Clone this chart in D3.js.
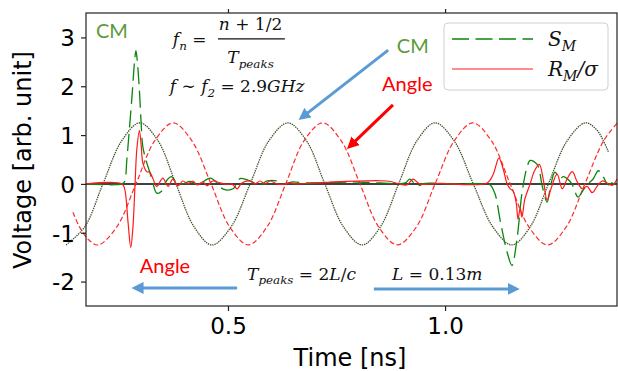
<!DOCTYPE html>
<html>
<head>
<meta charset="utf-8">
<script src="https://cdn.jsdelivr.net/npm/d3@7"></script>
<style>
  body { margin: 0; background: #fff; }
  svg { display: block; }
  text { font-family: "DejaVu Sans", sans-serif; }
</style>
</head>
<body>
<svg id="chart" width="618" height="371"></svg>
<script>
// values (time in ns, voltage in arb. units)
var cmTime  = [0.127, 0.170, 0.212, 0.255, 0.297, 0.339, 0.380, 0.422, 0.463, 0.507, 0.551, 0.594, 0.638,
               0.681, 0.723, 0.766, 0.809, 0.851, 0.893, 0.935, 0.977, 1.021, 1.065, 1.110, 1.154, 1.196,
               1.238, 1.281, 1.323, 1.350, 1.376];
var cmVolt  = [-1.25, -0.88, 0, 0.88, 1.25, 0.88, 0, -0.88, -1.25, -0.88, 0, 0.88, 1.25,
               0.88, 0, -0.88, -1.25, -0.88, 0, 0.88, 1.25, 0.88, 0, -0.88, -1.25, -0.88,
               0, 0.88, 1.25, 1.1, 0.66];

var angleTime = [0.143, 0.158, 0.180, 0.201, 0.244, 0.288, 0.331, 0.374, 0.417, 0.461, 0.504, 0.547, 0.590,
                 0.633, 0.675, 0.718, 0.761, 0.804, 0.847, 0.890, 0.934, 0.977, 1.021, 1.064, 1.107, 1.150,
                 1.193, 1.236, 1.279, 1.322, 1.365, 1.396];
var angleVolt = [-0.58, -0.88, -1.15, -1.25, -0.88, 0, 0.88, 1.25, 0.88, 0, -0.88, -1.25, -0.88,
                 0, 0.88, 1.25, 0.88, 0, -0.88, -1.25, -0.88, 0, 0.88, 1.25, 0.88, 0,
                 -0.88, -1.25, -0.88, 0, 0.88, 1.24];

// S_M (green dashed)
var smTime = [0.173, 0.256, 0.262, 0.267, 0.274, 0.280, 0.285, 0.288, 0.291, 0.296, 0.300, 0.304, 0.313,
              0.320, 0.327, 0.336, 0.347, 0.358, 0.370, 0.382, 0.396, 0.412, 0.431, 0.459, 0.475, 0.488,
              0.512, 0.528, 0.551, 0.574, 0.590, 0.613, 0.627, 0.650, 0.673, 0.696, 0.788, 0.850, 0.908,
              0.919, 0.935, 0.954, 1.012, 1.097, 1.104, 1.115, 1.127, 1.143, 1.154, 1.166, 1.177, 1.189,
              1.196, 1.212, 1.224, 1.235, 1.242, 1.253, 1.265, 1.272, 1.288, 1.295, 1.306, 1.318, 1.329,
              1.341, 1.353, 1.364, 1.376, 1.385, 1.396];
var smVolt = [0, 0, 0.05, 0.49, 1.24, 1.92, 2.53, 2.73, 2.53, 1.92, 1.24, 0.76, 0.43,
              0.24, 0.02, -0.19, -0.15, 0.06, 0.15, 0.02, 0.0, 0.05, -0.01, 0.12, 0.02, -0.1,
              -0.1, 0.11, 0.06, -0.02, 0.06, 0.06, 0.0, 0.04, 0.02, 0.02, 0.04, 0.02, 0.02,
              0.1, -0.04, 0.01, 0.0, 0.0, -0.02, -0.2, -0.75, -1.4, -1.67, -1.1, -0.2, 0.35,
              0.48, 0.4, -0.05, -0.37, -0.1, 0.24, 0.1, 0.15, 0.05, -0.05, -0.27, -0.13, 0.0,
              0.1, 0.27, 0.15, -0.02, 0.02, -0.12];

// R_M / sigma (red solid)
var rmTime = [0.173, 0.256, 0.262, 0.270, 0.276, 0.281, 0.286, 0.290, 0.296, 0.300, 0.304, 0.313, 0.320,
              0.327, 0.336, 0.350, 0.362, 0.373, 0.385, 0.396, 0.408, 0.419, 0.429, 0.442, 0.452, 0.465,
              0.482, 0.498, 0.509, 0.521, 0.532, 0.551, 0.562, 0.574, 0.585, 0.597, 0.613, 0.627, 0.643,
              0.659, 0.705, 0.866, 0.912, 0.926, 0.942, 0.988, 1.097, 1.111, 1.124, 1.134, 1.143, 1.150,
              1.157, 1.164, 1.168, 1.173, 1.177, 1.184, 1.196, 1.205, 1.217, 1.226, 1.235, 1.244, 1.258,
              1.270, 1.281, 1.293, 1.304, 1.316, 1.327, 1.339, 1.350, 1.362, 1.373, 1.385, 1.396];
var rmVolt = [0, 0, -0.1, -0.8, -1.3, -0.9, 0.0, 0.7, 1.09, 0.8, 0.43, 0.25, 0.24,
              0.11, -0.05, 0.12, -0.05, 0.1, -0.04, 0.06, 0.0, 0.06, -0.02, 0.04, -0.04, 0.06,
              0.02, -0.01, 0.0, -0.1, 0.02, 0.06, 0.0, 0.06, 0.0, 0.06, 0.0, -0.01, 0.02,
              0.0, 0.02, 0.06, -0.02, 0.1, 0.0, 0.01, 0.02, 0.2, 0.53, 0.3, 0.0, -0.1,
              -0.15, -0.4, -0.72, -0.5, -0.68, -0.3, 0.0, 0.25, 0.4, 0.1, -0.33, -0.1, 0.2,
              -0.1, 0.1, 0.25, 0.05, -0.1, -0.05, -0.18, -0.05, 0.06, 0.02, -0.03, 0.1];

var xTicks = [0.5, 1.0];
var yTicks = [-2, -1, 0, 1, 2, 3];

var svg = d3.select("#chart");

var x = d3.scaleLinear().domain([0.173, 1.396]).range([86, 617]);
var y = d3.scaleLinear().domain([-2.5, 3.5]).range([306, 13]);

function pts(ts, vs) { return ts.map((t, i) => [t, vs[i]]); }

var line = d3.line()
    .x(d => x(d[0]))
    .y(d => y(d[1]))
    .curve(d3.curveCatmullRom.alpha(0.5));

// zero line under the traces
svg.append("line")
    .attr("x1", x.range()[0]).attr("x2", x.range()[1])
    .attr("y1", y(0)).attr("y2", y(0))
    .attr("stroke", "#000").attr("stroke-width", 1.5);

// traces (not clipped, they run past the left spine like the original)
svg.append("path").datum(pts(cmTime, cmVolt))
    .attr("d", line).attr("fill", "none")
    .attr("stroke", "#3f5228").attr("stroke-width", 1.3)
    .attr("stroke-dasharray", "1.4,0.9");

svg.append("path").datum(pts(angleTime, angleVolt))
    .attr("d", line).attr("fill", "none")
    .attr("stroke", "#ff2a2a").attr("stroke-width", 1.2)
    .attr("stroke-dasharray", "5,2.6");

svg.append("path").datum(pts(smTime, smVolt))
    .attr("d", line).attr("fill", "none")
    .attr("stroke", "#0a870a").attr("stroke-width", 1.3)
    .attr("stroke-dasharray", "17,6.5");

svg.append("path").datum(pts(rmTime, rmVolt))
    .attr("d", line).attr("fill", "none")
    .attr("stroke", "#ff1a1a").attr("stroke-width", 1.2);

// frame
svg.append("rect")
    .attr("x", 86).attr("y", 13).attr("width", 531).attr("height", 293)
    .attr("fill", "none").attr("stroke", "#222").attr("stroke-width", 1.2);

// axes
var xAxis = svg.append("g").attr("transform", "translate(0,306)")
    .call(d3.axisBottom(x).tickValues(xTicks).tickFormat(d3.format(".1f")).tickSize(5).tickPadding(6));
var xTop = svg.append("g").attr("transform", "translate(0,13)")
    .call(d3.axisTop(x).tickValues(xTicks).tickFormat("").tickSize(4));
var yAxis = svg.append("g").attr("transform", "translate(86,0)")
    .call(d3.axisLeft(y).tickValues(yTicks).tickFormat(d => String(d)).tickSize(5).tickPadding(6));

[xAxis, xTop, yAxis].forEach(g => {
    g.select(".domain").remove();
    g.selectAll(".tick line").attr("stroke", "#222").attr("stroke-width", 1.2);
    g.selectAll(".tick text").attr("fill", "#000").style("font-size", "23px")
        .style("font-family", "'DejaVu Sans'");
});
yAxis.selectAll(".tick text").attr("dy", "0.36em");
xAxis.selectAll(".tick text").attr("dy", "0.75em");

svg.append("text")
    .attr("x", 350).attr("y", 366)
    .attr("text-anchor", "middle")
    .style("font-size", "24px")
    .text("Time [ns]");

svg.append("text")
    .attr("transform", "translate(31,160) rotate(-90)")
    .attr("text-anchor", "middle")
    .style("font-size", "24px")
    .text("Voltage [arb. unit]");

// annotations (positions in data units)
var defs = svg.append("defs");
function marker(id, color) {
    defs.append("marker").attr("id", id)
        .attr("viewBox", "0 0 10 10").attr("refX", 2).attr("refY", 5)
        .attr("markerWidth", 4).attr("markerHeight", 4)
        .attr("orient", "auto")
        .append("path").attr("d", "M0,0L10,5L0,10z").attr("fill", color);
}
marker("blueHead", "#5b9bd5");
marker("redHead", "#ff0000");

function arrow(x1, y1, x2, y2, color, head) {
    svg.append("line")
        .attr("x1", x(x1)).attr("y1", y(y1))
        .attr("x2", x(x2)).attr("y2", y(y2))
        .attr("stroke", color).attr("stroke-width", 3)
        .attr("marker-end", "url(#" + head + ")");
}
arrow(0.869, 2.74, 0.680, 1.43, "#5b9bd5", "blueHead");
arrow(0.880, 1.62, 0.790, 0.85, "#ff0000", "redHead");
arrow(0.521, -2.13, 0.300, -2.13, "#5b9bd5", "blueHead");
arrow(0.836, -2.15, 1.150, -2.15, "#5b9bd5", "blueHead");

function label(t, v, txt, color) {
    svg.append("text")
        .attr("x", x(t)).attr("y", y(v))
        .attr("fill", color)
        .style("font-family", "Lato, 'Open Sans', sans-serif")
        .style("font-size", "20px")
        .text(txt);
}
label(0.196, 2.99, "CM", "#5b9a3a");
label(0.889, 2.68, "CM", "#5b9a3a");
label(0.855, 1.90, "Angle", "#ff0000");
label(0.297, -1.82, "Angle", "#ff0000");

// math text: parts are [string, kind] with kind "" (italic), "sub", "up" (upright)
function math(t, v, parts, size, anchor) {
    var txt = svg.append("text")
        .attr("x", x(t)).attr("y", y(v))
        .attr("text-anchor", anchor || "start")
        .style("font-family", "'DejaVu Serif', serif")
        .style("font-size", size + "px")
        .attr("fill", "#111");
    var shifted = false;
    parts.forEach(p => {
        var ts = txt.append("tspan").text(p[0]);
        if (p[1] === "sub") {
            ts.style("font-size", (size * 0.7) + "px").style("font-style", "italic")
              .attr("dy", shifted ? null : size * 0.28);
            shifted = true;
        } else {
            ts.style("font-style", p[1] === "up" ? "normal" : "italic");
            if (shifted) { ts.attr("dy", -size * 0.28); shifted = false; }
        }
    });
}

math(0.373, 2.85, [["f", ""], ["n", "sub"], [" = ", "up"]], 17);
math(0.552, 3.15, [["n", ""], [" + 1/2", "up"]], 17, "middle");
svg.append("line")
    .attr("x1", x(0.477)).attr("x2", x(0.631))
    .attr("y1", y(2.97)).attr("y2", y(2.97))
    .attr("stroke", "#111").attr("stroke-width", 1.2);
math(0.552, 2.48, [["T", ""], ["peaks", "sub"]], 17, "middle");
math(0.366, 1.88, [["f", ""], [" ∼ ", "up"], ["f", ""], ["2", "sub"], [" = 2.9", "up"], ["GHz", ""]], 17);
math(0.544, -1.96, [["T", ""], ["peaks", "sub"], [" = 2", "up"], ["L", ""], ["/", "up"], ["c", ""]], 17);
math(0.878, -1.96, [["L", ""], [" = 0.13", "up"], ["m", ""]], 17);

// legend
var leg = svg.append("g");
leg.append("rect")
    .attr("x", 444).attr("y", 23).attr("width", 164).attr("height", 67).attr("rx", 4)
    .attr("fill", "#fff").attr("fill-opacity", 0.85)
    .attr("stroke", "#d0d0d0").attr("stroke-width", 1);
leg.append("line").attr("x1", 452).attr("x2", 533).attr("y1", 39).attr("y2", 39)
    .attr("stroke", "#0a870a").attr("stroke-width", 1.3).attr("stroke-dasharray", "17,6.5");
leg.append("line").attr("x1", 452).attr("x2", 533).attr("y1", 69).attr("y2", 69)
    .attr("stroke", "#ff1a1a").attr("stroke-width", 1.2);

function legText(px, py, parts) {
    var t = leg.append("text").attr("x", px).attr("y", py)
        .style("font-family", "'DejaVu Serif', serif").style("font-size", "20px")
        .style("font-style", "italic").attr("fill", "#111");
    parts.forEach(p => {
        var s = t.append("tspan").text(p[0]);
        if (p[1] === "sub") s.style("font-size", "14px").attr("dy", 5);
        if (p[1] === "back") s.attr("dy", -5);
    });
}
legText(548, 46, [["S", ""], ["M", "sub"]]);
legText(548, 76, [["R", ""], ["M", "sub"], ["/σ", "back"]]);
</script>
</body>
</html>
